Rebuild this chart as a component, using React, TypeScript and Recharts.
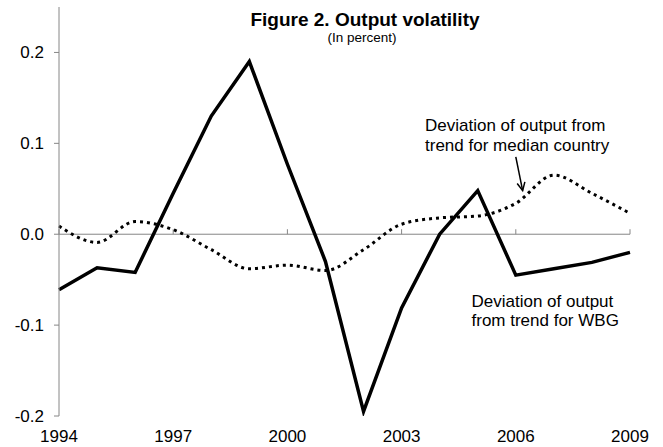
import React from 'react';
import { LineChart, Line, XAxis, YAxis, ReferenceLine } from 'recharts';

const years = [1994, 1995, 1996, 1997, 1998, 1999, 2000, 2001, 2002, 2003, 2004, 2005, 2006, 2007, 2008, 2009];
const wbgDeviation = [-0.061, -0.037, -0.042, 0.045, 0.13, 0.19, 0.077, -0.03, -0.195, -0.081, 0.0, 0.048, -0.045, -0.038, -0.031, -0.02];
const medianDeviation = [0.009, -0.009, 0.014, 0.005, -0.017, -0.038, -0.034, -0.04, -0.017, 0.011, 0.018, 0.02, 0.034, 0.065, 0.045, 0.023];
const xTicks = [1994, 1997, 2000, 2003, 2006, 2009];
const yTicks = [-0.2, -0.1, 0, 0.1, 0.2];

const data = years.map((year, i) => ({ year, wbg: wbgDeviation[i], median: medianDeviation[i] }));

const FONT = '"Liberation Sans", Arial, sans-serif';
const AXIS = '#868686';

// small arrow pointing from the label down to the dotted series
function ArrowShape(props: any) {
  const { x1, y1, x2, y2 } = props;
  const ang = Math.atan2(y2 - y1, x2 - x1);
  const len = 9;
  const spread = 0.45;
  const ax = x2 - len * Math.cos(ang - spread);
  const ay = y2 - len * Math.sin(ang - spread);
  const bx = x2 - len * Math.cos(ang + spread);
  const by = y2 - len * Math.sin(ang + spread);
  return (
    <g>
      <line x1={x1} y1={y1} x2={x2} y2={y2} stroke="#000" strokeWidth={1.5} />
      <polyline points={`${ax},${ay} ${x2},${y2} ${bx},${by}`} fill="none" stroke="#000" strokeWidth={1.5} />
    </g>
  );
}

export default function App() {
  return (
    <div style={{ position: 'absolute', left: 0, top: 0, width: 663, height: 447, background: '#fff', fontFamily: FONT }}>
      <LineChart width={663} height={447} data={data} margin={{ top: 7, right: 33, bottom: 1, left: 9 }}>
        <XAxis
          dataKey="year"
          type="number"
          domain={[1994, 2009]}
          ticks={xTicks}
          axisLine={false}
          tickLine={false}
          tickSize={0}
          tickMargin={14}
          height={30}
          tick={{ fill: '#000', fontSize: 17, fontFamily: FONT }}
        />
        <YAxis
          domain={[-0.2, 0.25]}
          ticks={yTicks}
          allowDataOverflow
          width={50}
          tickSize={5}
          tickMargin={10}
          axisLine={{ stroke: AXIS, strokeWidth: 1 }}
          tickLine={{ stroke: AXIS, strokeWidth: 1 }}
          tick={{ fill: '#000', fontSize: 17, fontFamily: FONT }}
          tickFormatter={(v: number) => v.toFixed(1)}
        />
        <ReferenceLine y={0} stroke={AXIS} strokeWidth={1} />
        {xTicks.map((yr) => (
          <ReferenceLine
            key={yr}
            segment={[{ x: yr, y: 0 }, { x: yr, y: 0.0055 }]}
            stroke={AXIS}
            strokeWidth={1}
          />
        ))}
        <Line
          type="monotone"
          dataKey="median"
          stroke="#000"
          strokeWidth={3}
          strokeDasharray="3 4"
          dot={false}
          activeDot={false}
          isAnimationActive={false}
        />
        <Line
          type="linear"
          dataKey="wbg"
          stroke="#000"
          strokeWidth={3.5}
          dot={false}
          activeDot={false}
          isAnimationActive={false}
        />
        <ReferenceLine
          segment={[{ x: 2006.0, y: 0.085 }, { x: 2006.18, y: 0.048 }]}
          shape={ArrowShape}
        />
      </LineChart>
      <svg width={663} height={447} style={{ position: 'absolute', left: 0, top: 0, pointerEvents: 'none' }}>
        <g fontFamily={FONT} fill="#000">
          <text x={365} y={25.5} textAnchor="middle" fontSize={19} fontWeight="bold">Figure 2. Output volatility</text>
          <text x={362} y={41.5} textAnchor="middle" fontSize={13.5}>(In percent)</text>
          <text x={425} y={131} fontSize={17}>Deviation of output from</text>
          <text x={425} y={150.5} fontSize={17}>trend for median country</text>
          <text x={471.5} y={307.3} fontSize={17}>Deviation of output</text>
          <text x={471.5} y={326} fontSize={17}>from trend for WBG</text>
        </g>
      </svg>
    </div>
  );
}
